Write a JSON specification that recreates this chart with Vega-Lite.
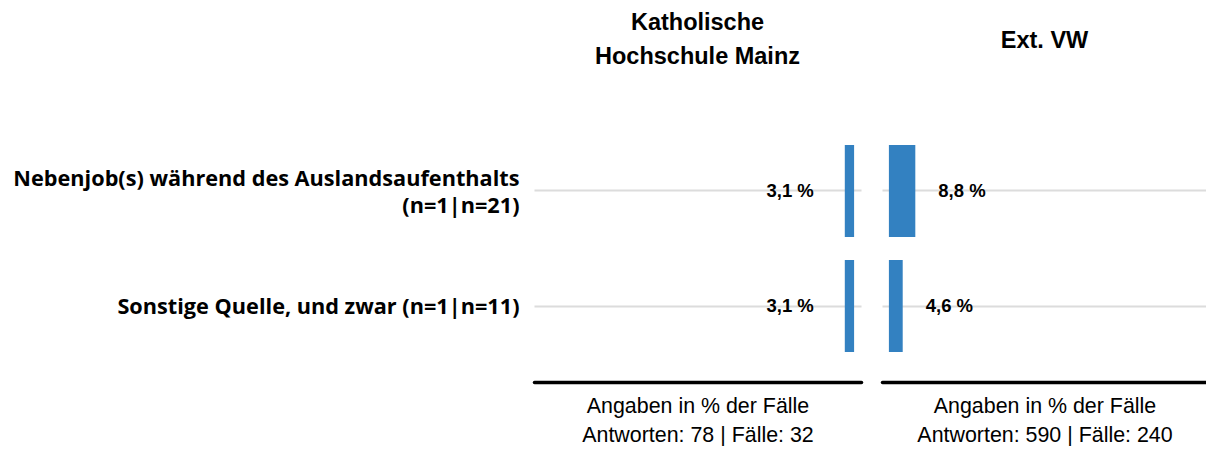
{
  "$schema": "https://vega.github.io/schema/vega-lite/v6.json",
  "background": "white",
  "padding": {"left": 12, "top": 10, "right": 0, "bottom": 0},
  "config": {"view": {"stroke": null}, "font": "Liberation Sans", "concat": {"spacing": 21}},
  "datasets": {
    "kh": [
      {"cat": "Nebenjob(s) während des Auslandsaufenthalts\n(n=1|n=21)", "value": 3.1, "label": "3,1 %"},
      {"cat": "Sonstige Quelle, und zwar (n=1|n=11)", "value": 3.1, "label": "3,1 %"}
    ],
    "ext": [
      {"cat": "Nebenjob(s) während des Auslandsaufenthalts\n(n=1|n=21)", "value": 8.8, "label": "8,8 %"},
      {"cat": "Sonstige Quelle, und zwar (n=1|n=11)", "value": 4.6, "label": "4,6 %"}
    ]
  },
  "hconcat": [
    {
      "width": 327,
      "height": 267,
      "title": {"text": ["Katholische", "Hochschule Mainz"], "frame": "group", "anchor": "middle", "font": "Liberation Sans", "fontSize": 23.5, "fontWeight": "bold", "lineHeight": 34, "baseline": "alphabetic", "offset": 28, "color": "black"},
      "data": {"name": "kh"},
      "encoding": {
        "y": {"field": "cat", "type": "nominal", "sort": null,
          "scale": {"paddingInner": 0.2, "paddingOuter": 0.26},
          "axis": {"title": null, "ticks": false, "domain": false, "grid": true, "gridColor": "#dcdcdc", "gridWidth": 2, "bandPosition": 0.5,
            "labelFont": "Open Sans", "labelFontWeight": "bold", "labelFontSize": 21.7, "labelColor": "black", "labelPadding": 15, "labelLimit": 800, "labelLineHeight": 27, "labelAlign": "right", "labelBaseline": "middle",
            "labelOffset": {"condition": {"test": "indexof(datum.value, '\\n') >= 0", "value": -12}, "value": 1},
            "labelExpr": "split(datum.label, '\\n')"}},
        "x": {"field": "value", "type": "quantitative",
          "scale": {"domain": [-2.3, 106.7], "reverse": true, "nice": false, "zero": false},
          "axis": {"title": ["Angaben in % der Fälle", "Antworten: 78 | Fälle: 32"], "titleFont": "Liberation Sans", "titleFontWeight": "normal", "titleFontSize": 21.4, "titleLineHeight": 29, "titlePadding": 13, "titleColor": "black",
            "labels": false, "ticks": false, "grid": false, "domainColor": "black", "domainWidth": 3.5, "domainCap": "round"}}
      },
      "layer": [
        {"mark": {"type": "bar", "color": "#3381c1"}, "encoding": {"x2": {"datum": 0}}},
        {"mark": {"type": "text", "align": "right", "baseline": "middle", "dx": -31, "font": "Liberation Sans", "fontWeight": "bold", "fontSize": 18.5, "color": "black"},
          "encoding": {"text": {"field": "label"}}}
      ]
    },
    {
      "width": 325,
      "height": 267,
      "title": {"text": "Ext. VW", "frame": "group", "anchor": "middle", "font": "Liberation Sans", "fontSize": 23.5, "fontWeight": "bold", "baseline": "alphabetic", "offset": 44, "color": "black"},
      "data": {"name": "ext"},
      "encoding": {
        "y": {"field": "cat", "type": "nominal", "sort": null,
          "scale": {"paddingInner": 0.2, "paddingOuter": 0.26},
          "axis": {"title": null, "ticks": false, "domain": false, "labels": false, "grid": true, "gridColor": "#dcdcdc", "gridWidth": 2, "bandPosition": 0.5}},
        "x": {"field": "value", "type": "quantitative",
          "scale": {"domain": [-2.3, 106], "nice": false, "zero": false},
          "axis": {"title": ["Angaben in % der Fälle", "Antworten: 590 | Fälle: 240"], "titleFont": "Liberation Sans", "titleFontWeight": "normal", "titleFontSize": 21.4, "titleLineHeight": 29, "titlePadding": 13, "titleColor": "black",
            "labels": false, "ticks": false, "grid": false, "domainColor": "black", "domainWidth": 3.5, "domainCap": "round"}}
      },
      "layer": [
        {"mark": {"type": "bar", "color": "#3381c1"}, "encoding": {"x2": {"datum": 0}}},
        {"mark": {"type": "text", "align": "left", "baseline": "middle", "dx": 23, "font": "Liberation Sans", "fontWeight": "bold", "fontSize": 18.5, "color": "black"},
          "encoding": {"text": {"field": "label"}}}
      ]
    }
  ]
}
